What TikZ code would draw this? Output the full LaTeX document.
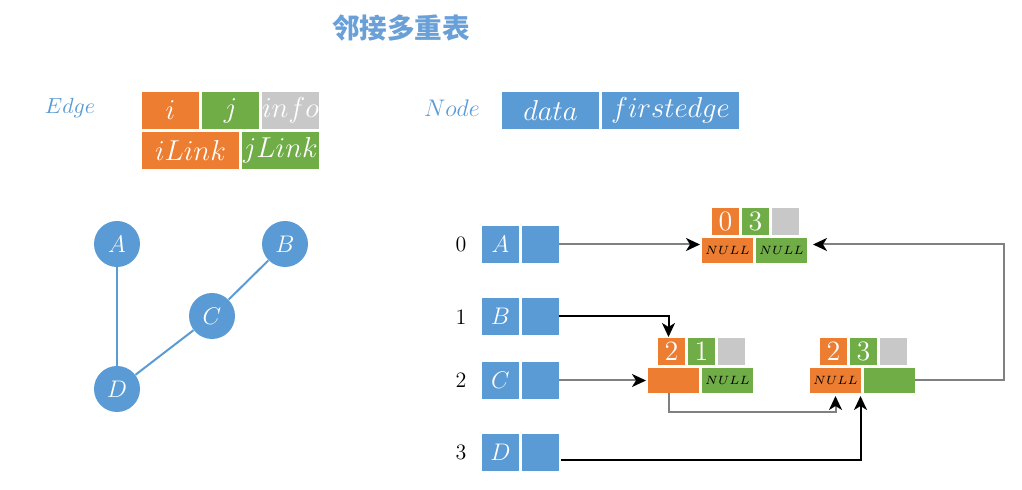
\documentclass[tikz,border=0pt]{standalone}
\usepackage{fontspec}
\newfontfamily\cjk{Noto Sans CJK SC}
\usetikzlibrary{arrows.meta,positioning,calc}

\definecolor{myorange}{RGB}{237,125,49}
\definecolor{mygreen}{RGB}{112,173,71}
\definecolor{mygray}{RGB}{200,200,200}
\definecolor{myblue}{RGB}{91,155,213}
\definecolor{titleblue}{RGB}{106,160,216}

\begin{document}
\begin{tikzpicture}[x=0.5pt,y=-0.5pt,
    cell/.style={inner sep=0pt, outer sep=0pt, text=white},
    tpl/.style={cell, minimum height=18.5pt, font=\fontsize{13.7}{16}\selectfont},
    vx/.style={cell, minimum width=18.5pt, minimum height=18.5pt, fill=myblue, font=\fontsize{12.5}{15}\selectfont},
    top/.style={cell, minimum width=13.5pt, minimum height=13.5pt, font=\fontsize{14}{16}\selectfont},
    low/.style={cell, minimum width=25.5pt, minimum height=12.5pt, text=black, font=\fontsize{5.8}{7}\selectfont},
    gnode/.style={circle, fill=myblue, inner sep=0pt, minimum size=23pt, text=white, font=\fontsize{11.5}{14}\selectfont},
    gedge/.style={draw=myblue, line width=1pt},
    link/.style={draw=gray, line width=1pt, -{Stealth[length=7pt,width=6.5pt,inset=2pt,color=black]}}]
\useasboundingbox (0,0) rectangle (1022,490);

\node [text=titleblue, font=\cjk\bfseries\fontsize{13.8}{16}\selectfont] (title) at (401,28) {邻接多重表};

% templates
\node [text=myblue, font=\fontsize{11.4}{14}\selectfont] (edgeLbl) at (70,108) {$Edge$};
\node [tpl, fill=myorange, minimum width=28.5pt] (eI) at (170.5,110.5) {$i$};
\node [tpl, fill=mygreen, minimum width=28.5pt] (eJ) at (230.5,110.5) {$j$};
\node [tpl, fill=mygray, minimum width=28.5pt] (eInfo) at (290.5,110.5) {$info$};
\node [tpl, fill=myorange, minimum width=48.5pt] (eIL) at (190.5,150.5) {$iLink$};
\node [tpl, fill=mygreen, minimum width=38.5pt] (eJL) at (280.5,150.5) {$jLink$};

\node [text=myblue, font=\fontsize{11.7}{14}\selectfont] (nodeLbl) at (452,108) {$Node$};
\node [tpl, fill=myblue, minimum width=48.5pt] (nData) at (550.5,110.5) {$data$};
\node [tpl, fill=myblue, minimum width=68.5pt] (nFirst) at (670.5,110.5) {$firstedge$};

% graph
\node [gnode] (gA) at (117,244) {$A$};
\node [gnode] (gB) at (285,244) {$B$};
\node [gnode] (gC) at (212,316) {$C$};
\node [gnode] (gD) at (117,389) {$D$};
\draw [gedge] (gA) -- (gD);
\draw [gedge] (gB) -- (gC);
\draw [gedge] (gC) -- (gD);

% vertex table
\node [font=\fontsize{11}{13}\selectfont] (idx0) at (461,244) {0};
\node [font=\fontsize{11}{13}\selectfont] (idx1) at (461,317) {1};
\node [font=\fontsize{11}{13}\selectfont] (idx2) at (461,380) {2};
\node [font=\fontsize{11}{13}\selectfont] (idx3) at (461,452) {3};
\node [vx] (tA) at (500.5,244.5) {$A$};
\node [vx] (tAf) at (540.5,244.5) {};
\node [vx] (tB) at (500.5,316.5) {$B$};
\node [vx] (tBf) at (540.5,316.5) {};
\node [vx] (tC) at (500.5,380.5) {$C$};
\node [vx] (tCf) at (540.5,380.5) {};
\node [vx] (tD) at (500.5,452.5) {$D$};
\node [vx] (tDf) at (540.5,452.5) {};

% edge 0-3
\coordinate (E03) at (702,238);
\node [top, fill=myorange] (e03i) at ($(E03)+(23.5,-16.5)$) {0};
\node [top, fill=mygreen] (e03j) at ($(E03)+(53.5,-16.5)$) {3};
\node [top, fill=mygray] (e03n) at ($(E03)+(83.5,-16.5)$) {};
\node [low, fill=myorange] (e03il) at ($(E03)+(25.5,12.5)$) {$NULL$};
\node [low, fill=mygreen] (e03jl) at ($(E03)+(79.5,12.5)$) {$NULL$};

% edge 2-1
\coordinate (E21) at (648,368);
\node [top, fill=myorange] (e21i) at ($(E21)+(23.5,-16.5)$) {2};
\node [top, fill=mygreen] (e21j) at ($(E21)+(53.5,-16.5)$) {1};
\node [top, fill=mygray] (e21n) at ($(E21)+(83.5,-16.5)$) {};
\node [low, fill=myorange] (e21il) at ($(E21)+(25.5,12.5)$) {};
\node [low, fill=mygreen] (e21jl) at ($(E21)+(79.5,12.5)$) {$NULL$};

% edge 2-3
\coordinate (E23) at (810,368);
\node [top, fill=myorange] (e23i) at ($(E23)+(23.5,-16.5)$) {2};
\node [top, fill=mygreen] (e23j) at ($(E23)+(53.5,-16.5)$) {3};
\node [top, fill=mygray] (e23n) at ($(E23)+(83.5,-16.5)$) {};
\node [low, fill=myorange] (e23il) at ($(E23)+(25.5,12.5)$) {$NULL$};
\node [low, fill=mygreen] (e23jl) at ($(E23)+(79.5,12.5)$) {};

% links
\draw [link] (tAf.east) -- ($(e03il.west)+(-2,-6)$);
\draw [link, draw=black] (tBf.east) -| ($(e21i.north)+(-3,-1)$);
\draw [link] (tCf.east) -- ($(e21il.west)+(-2,0)$);
\draw [link] ($(e21il.south)+(-5,0)$) -- ++(0,19) -| ($(e23il.south)+(0,3)$);
\coordinate (e23mid) at ($(e23il.south east)!0.5!(e23jl.south west)+(-2,3)$);
\draw [link, draw=black] ($(tDf.east)+(2,8)$) -| (e23mid);
\draw [link] (e23jl.east) -- ++(89,0) |- ($(e03jl.east)+(6,-6)$);

%\draw[loosely dotted, step=50] (0,0) grid (1022,490);
\end{tikzpicture}
\end{document}
